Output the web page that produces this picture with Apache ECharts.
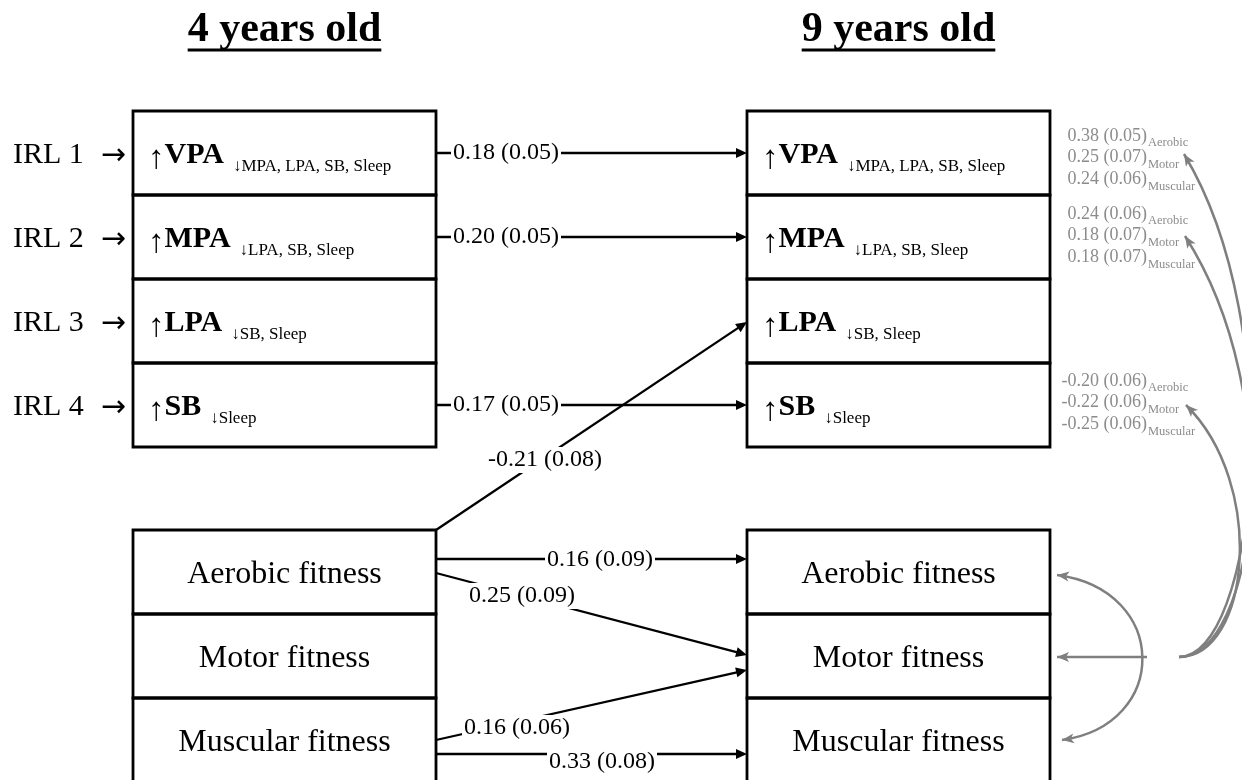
<!DOCTYPE html>
<html>
<head>
<meta charset="utf-8">
<script src="https://cdn.jsdelivr.net/npm/echarts@6.0.0/dist/echarts.min.js"></script>
<style>
  html, body { margin: 0; padding: 0; background: #fff; }
  #chart { width: 1242px; height: 780px; }
</style>
</head>
<body>
<div id="chart"></div>
<script>
// ---- data ----
const ages = ['4 years old', '9 years old'];
const irlLabels = ['IRL 1', 'IRL 2', 'IRL 3', 'IRL 4'];
const paNames = ['VPA', 'MPA', 'LPA', 'SB'];
const paLower = ['MPA, LPA, SB, Sleep', 'LPA, SB, Sleep', 'SB, Sleep', 'Sleep'];
const fitnessNames = ['Aerobic fitness', 'Motor fitness', 'Muscular fitness'];

// longitudinal paths 4 y -> 9 y  (block, row)
const pathFrom = [['pa', 0], ['pa', 1], ['pa', 3], ['fit', 0], ['fit', 0], ['fit', 0], ['fit', 2], ['fit', 2]];
const pathTo = [['pa', 0], ['pa', 1], ['pa', 3], ['pa', 2], ['fit', 0], ['fit', 1], ['fit', 1], ['fit', 2]];
const pathBeta = ['0.18 (0.05)', '0.20 (0.05)', '0.17 (0.05)', '-0.21 (0.08)',
                  '0.16 (0.09)', '0.25 (0.09)', '0.16 (0.06)', '0.33 (0.08)'];

// cross-sectional at 9 y: fitness -> PA row
const fitShort = ['Aerobic', 'Motor', 'Muscular'];
const crossRows = [0, 1, 3];
const crossBeta = [
  ['0.38 (0.05)', '0.25 (0.07)', '0.24 (0.06)'],
  ['0.24 (0.06)', '0.18 (0.07)', '0.18 (0.07)'],
  ['-0.20 (0.06)', '-0.22 (0.06)', '-0.25 (0.06)']
];

// ---- layout (px on a 1242 x 780 value grid) ----
const colX = [133, 747];
const boxW = 303;
const rowH = 84;
const blockTop = { pa: 111, fit: 530 };
// a / b: where the path leaves / enters its row (below row top), lx / ly: label centre
const pathLayout = [
  { a: 42, b: 42, lx: 506, ly: 153 },
  { a: 42, b: 42, lx: 506, ly: 237 },
  { a: 42, b: 42, lx: 506, ly: 405 },
  { a: 0, b: 43, lx: 545, ly: 460 },
  { a: 29, b: 29, lx: 600, ly: 560 },
  { a: 43, b: 41, lx: 522, ly: 596 },
  { a: 42, b: 56, lx: 517, ly: 728 },
  { a: 56, b: 56, lx: 602, ly: 762 }
];
const crossBase = [142, 220, 387];
const crossGap = 21.7;
const crossStart = [1179, 657];
const crossCurves = [
  [[1255, 657], [1290, 330], [1184, 154]],
  [[1255, 657], [1290, 400], [1185, 236]],
  [[1250, 657], [1267, 485], [1186, 405]]
];
const arcCurve = [[1057, 575], [1170, 590], [1170, 725], [1062, 740]];
const motorArrow = [[1147, 657], [1057, 657]];

const SERIF = '"Liberation Serif", "Times New Roman", serif';
const SANS = '"DejaVu Sans", sans-serif';
const GREY_TXT = '#8c8c8c';
const GREY_LINE = '#7f7f7f';
function font(size, bold, family) { return (bold ? 'bold ' : '') + size + 'px ' + (family || SERIF); }
const measureCtx = document.createElement('canvas').getContext('2d');
function textWidth(t, f) { measureCtx.font = f; return measureCtx.measureText(t).width; }

// ---- build marks ----
const boxes = [];
[0, 1].forEach(c => {
  paNames.forEach((n, r) => boxes.push([colX[c], blockTop.pa + r * rowH, boxW, rowH]));
  fitnessNames.forEach((n, r) => boxes.push([colX[c], blockTop.fit + r * rowH, boxW, rowH]));
});

function portY(node, dy) { return blockTop[node[0]] + node[1] * rowH + dy; }
const edges = pathBeta.map((b, i) => [
  colX[0] + boxW, portY(pathFrom[i], pathLayout[i].a),
  colX[1], portY(pathTo[i], pathLayout[i].b)
]);

const texts = [];
function addText(x, base, text, size, opts) {
  texts.push(Object.assign({ x: x, base: base, text: text, size: size, bold: false, align: 'left', fill: '#000' }, opts || {}));
}
ages.forEach((t, i) => addText(colX[i] + boxW / 2, 44, t, 42, { bold: true, align: 'center', underline: true }));
irlLabels.forEach((t, r) => {
  const base = blockTop.pa + r * rowH + 54;
  addText(13, base, t, 30);
  addText(126, base + 1, '→', 30, { align: 'right', family: SANS });
});
[0, 1].forEach(c => {
  paNames.forEach((n, r) => {
    const x0 = colX[c] + 15;
    const base = blockTop.pa + r * rowH + 54;
    const wUp = textWidth('↑', font(33));
    const wName = textWidth(n, font(30, true));
    addText(x0, base + 5, '↑', 33);
    addText(x0 + wUp, base, n, 30, { bold: true });
    addText(x0 + wUp + wName + 9, base + 7, '↓' + paLower[r], 17);
  });
  fitnessNames.forEach((n, r) => {
    addText(colX[c] + boxW / 2, blockTop.fit + r * rowH + 55, n, 32, { align: 'center' });
  });
});
crossRows.forEach((row, g) => {
  crossBeta[g].forEach((v, k) => {
    const base = crossBase[g] + k * crossGap;
    addText(1147, base, v, 18, { align: 'right', fill: GREY_TXT });
    addText(1148, base + 5, fitShort[k], 12.5, { fill: GREY_TXT });
  });
});

const curves = [];
crossCurves.forEach(c => curves.push([...crossStart, ...c[0], ...c[1], ...c[2], 0]));
curves.push([...arcCurve[0], ...arcCurve[1], ...arcCurve[2], ...arcCurve[3], 1]);
curves.push([...motorArrow[0], ...motorArrow[0], ...motorArrow[1], ...motorArrow[1], 0]);

// ---- helpers ----
function arrowHead(tip, from, len, half, notch, color) {
  const dx = tip[0] - from[0], dy = tip[1] - from[1];
  const d = Math.hypot(dx, dy) || 1;
  const ux = dx / d, uy = dy / d, nx = -uy, ny = ux;
  const bx = tip[0] - ux * len, by = tip[1] - uy * len;
  return {
    type: 'polygon',
    shape: { points: [
      [tip[0], tip[1]],
      [bx + nx * half, by + ny * half],
      [tip[0] - ux * (len - notch), tip[1] - uy * (len - notch)],
      [bx - nx * half, by - ny * half]
    ] },
    style: { fill: color }
  };
}

const option = {
  animation: false,
  backgroundColor: '#fff',
  grid: { left: 0, right: 0, top: 0, bottom: 0, outerBoundsMode: 'none' },
  xAxis: { type: 'value', min: 0, max: 1242, show: false },
  yAxis: { type: 'value', min: 0, max: 780, inverse: true, show: false },
  series: [
    {
      name: 'boxes',
      type: 'custom',
      silent: true,
      data: boxes,
      renderItem: (params, api) => {
        const p1 = api.coord([api.value(0), api.value(1)]);
        const p2 = api.coord([api.value(0) + api.value(2), api.value(1) + api.value(3)]);
        return {
          type: 'rect',
          shape: { x: p1[0], y: p1[1], width: p2[0] - p1[0], height: p2[1] - p1[1] },
          style: { fill: 'none', stroke: '#000', lineWidth: 2.8 }
        };
      }
    },
    {
      name: 'paths',
      type: 'custom',
      silent: true,
      data: edges,
      renderItem: (params, api) => {
        const p1 = api.coord([api.value(0), api.value(1)]);
        const p2 = api.coord([api.value(2), api.value(3)]);
        const dx = p2[0] - p1[0], dy = p2[1] - p1[1], d = Math.hypot(dx, dy);
        const end = [p2[0] - dx / d * 7, p2[1] - dy / d * 7];
        return {
          type: 'group',
          children: [
            { type: 'line', shape: { x1: p1[0], y1: p1[1], x2: end[0], y2: end[1] }, style: { stroke: '#000', lineWidth: 2.3 } },
            arrowHead(p2, p1, 11, 5, 0, '#000')
          ]
        };
      }
    },
    {
      name: 'fitness-links',
      type: 'custom',
      silent: true,
      data: curves,
      renderItem: (params, api) => {
        const p0 = api.coord([api.value(0), api.value(1)]);
        const c1 = api.coord([api.value(2), api.value(3)]);
        const c2 = api.coord([api.value(4), api.value(5)]);
        const p3 = api.coord([api.value(6), api.value(7)]);
        const both = api.value(8) === 1;
        const endFrom = Math.hypot(p3[0] - c2[0], p3[1] - c2[1]) < 1 ? p0 : c2;
        const startFrom = Math.hypot(p0[0] - c1[0], p0[1] - c1[1]) < 1 ? p3 : c1;
        const children = [
          {
            type: 'bezierCurve',
            shape: { x1: p0[0], y1: p0[1], cpx1: c1[0], cpy1: c1[1], cpx2: c2[0], cpy2: c2[1], x2: p3[0], y2: p3[1] },
            style: { fill: 'none', stroke: GREY_LINE, lineWidth: 2.5 }
          },
          arrowHead(p3, endFrom, 12, 5, 3, GREY_LINE)
        ];
        if (both) children.push(arrowHead(p0, startFrom, 12, 5, 3, GREY_LINE));
        return { type: 'group', children: children };
      }
    },
    {
      name: 'estimates',
      type: 'custom',
      silent: true,
      data: pathLayout.map(l => [l.lx, l.ly]),
      renderItem: (params, api) => {
        const p = api.coord([api.value(0), api.value(1)]);
        return {
          type: 'text',
          x: p[0], y: p[1],
          style: {
            text: pathBeta[params.dataIndex],
            font: font(24),
            fill: '#000',
            align: 'center',
            verticalAlign: 'middle',
            backgroundColor: '#fff',
            padding: [1, 2]
          }
        };
      }
    },
    {
      name: 'texts',
      type: 'custom',
      silent: true,
      data: texts.map(s => [s.x, s.base]),
      renderItem: (params, api) => {
        const s = texts[params.dataIndex];
        const p = api.coord([api.value(0), api.value(1)]);
        const f = font(s.size, s.bold, s.family);
        const el = {
          type: 'text',
          x: p[0], y: p[1] - 0.33 * s.size,
          style: { text: s.text, font: f, fill: s.fill, align: s.align, verticalAlign: 'middle' }
        };
        if (!s.underline) return el;
        const w = textWidth(s.text, f);
        return {
          type: 'group',
          children: [el, {
            type: 'line',
            shape: { x1: p[0] - w / 2, y1: p[1] + 6, x2: p[0] + w / 2, y2: p[1] + 6 },
            style: { stroke: '#000', lineWidth: 3 }
          }]
        };
      }
    }
  ]
};

const chart = echarts.init(document.getElementById('chart'));
chart.setOption(option);
</script>
</body>
</html>
